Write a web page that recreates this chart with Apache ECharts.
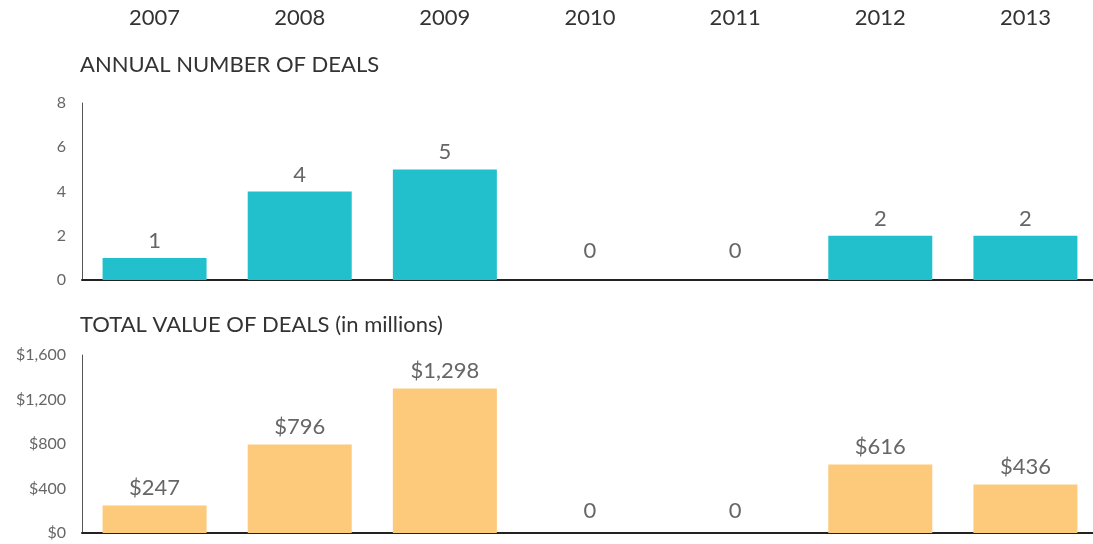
<!DOCTYPE html>
<html>
<head>
<meta charset="utf-8">
<script src="https://cdn.jsdelivr.net/npm/echarts@6/dist/echarts.min.js"></script>
<style>
  html, body { margin: 0; padding: 0; background: #fff; overflow: hidden; }
  /* a bit wider than the window: the last bar runs past the right edge in the original */
  #chart { width: 1104px; height: 544px; }
</style>
</head>
<body>
<div id="chart"></div>
<script>
var years = ['2007', '2008', '2009', '2010', '2011', '2012', '2013'];
var dealCounts = [1, 4, 5, 0, 0, 2, 2];
var dealValues = [247, 796, 1298, 0, 0, 616, 436]; // millions

var font = 'Lato, "Open Sans", sans-serif';
var labelGray = '#666';

function money(v) {
    return '$' + v.toLocaleString('en-US');
}

// zero bars have no height, so push their label up a bit
function withLabels(values, fmt, normalDist, zeroDist) {
    return values.map(function (v) {
        return {
            value: v,
            label: {
                distance: v === 0 ? zeroDist : normalDist,
                formatter: v === 0 ? '0' : fmt(v)
            }
        };
    });
}

var chart = echarts.init(document.getElementById('chart'));

var option = {
    animation: false,
    textStyle: { fontFamily: font },
    title: [
        {
            text: 'ANNUAL NUMBER OF DEALS',
            left: 80, top: 54, padding: 0,
            textStyle: { fontFamily: font, fontSize: 22, fontWeight: 'normal', color: '#333' }
        },
        {
            text: 'TOTAL VALUE OF DEALS (in millions)',
            left: 80, top: 314, padding: 0,
            textStyle: { fontFamily: font, fontSize: 22, fontWeight: 'normal', color: '#333' }
        }
    ],
    grid: [
        { left: 82, width: 1016, top: 103, height: 177 },
        { left: 82, width: 1016, top: 355, height: 178 }
    ],
    xAxis: [
        {
            gridIndex: 0, type: 'category', data: years, position: 'bottom',
            axisLine: { lineStyle: { color: '#222', width: 2 } },
            axisTick: { inside: true, length: 4, lineStyle: { color: '#222' } },
            axisLabel: { show: false }
        },
        {
            gridIndex: 0, type: 'category', data: years, position: 'top', offset: 66,
            axisLine: { show: false },
            axisTick: { show: false },
            axisLabel: { fontFamily: font, fontSize: 22, color: '#333', margin: 8 }
        },
        {
            gridIndex: 1, type: 'category', data: years, position: 'bottom',
            axisLine: { lineStyle: { color: '#222', width: 2 } },
            axisTick: { inside: true, length: 4, lineStyle: { color: '#222' } },
            axisLabel: { show: false }
        }
    ],
    yAxis: [
        {
            gridIndex: 0, type: 'value', min: 0, max: 8, interval: 2,
            splitLine: { show: false },
            axisLine: { show: true, lineStyle: { color: '#555', width: 1 } },
            axisTick: { show: false },
            axisLabel: { fontFamily: font, fontSize: 16, color: labelGray, margin: 16 }
        },
        {
            gridIndex: 1, type: 'value', min: 0, max: 1600, interval: 400,
            splitLine: { show: false },
            axisLine: { show: true, lineStyle: { color: '#555', width: 1 } },
            axisTick: { show: false },
            axisLabel: { fontFamily: font, fontSize: 16, color: labelGray, margin: 16, formatter: money }
        }
    ],
    series: [
        {
            type: 'bar', xAxisIndex: 0, yAxisIndex: 0,
            data: withLabels(dealCounts, String, 6, 18),
            barWidth: 104,
            itemStyle: { color: '#22bfcc' },
            label: { show: true, position: 'top', fontFamily: font, fontSize: 22, color: labelGray }
        },
        {
            type: 'bar', xAxisIndex: 2, yAxisIndex: 1,
            data: withLabels(dealValues, money, 7, 11),
            barWidth: 104,
            itemStyle: { color: '#fdc97a' },
            label: { show: true, position: 'top', fontFamily: font, fontSize: 22, color: labelGray }
        }
    ]
};

chart.setOption(option);
</script>
</body>
</html>
